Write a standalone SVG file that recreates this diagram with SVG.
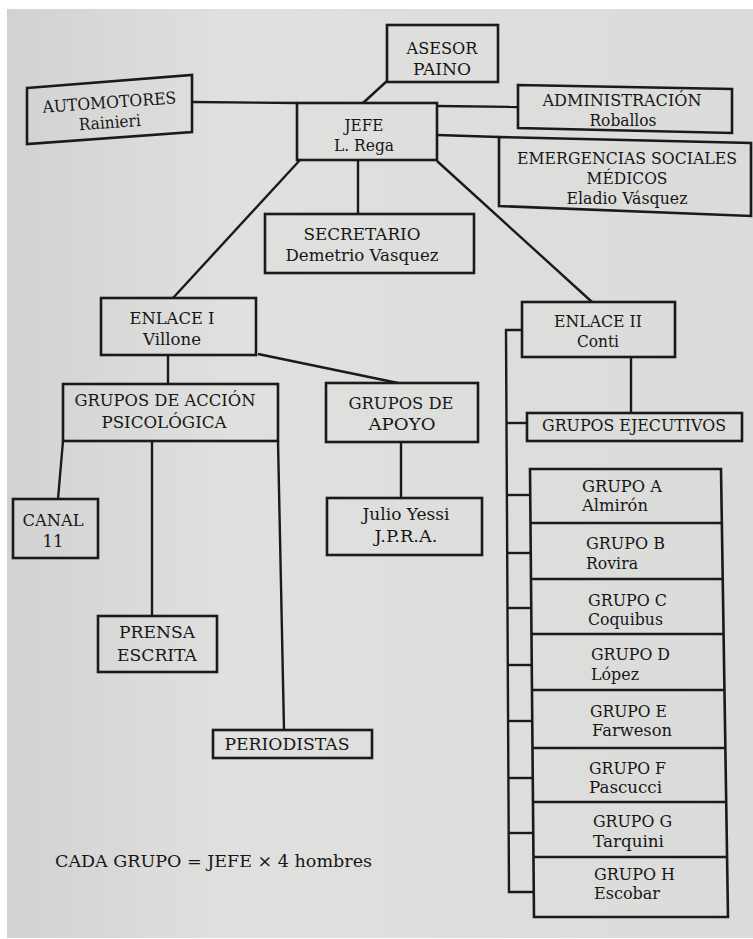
<svg xmlns="http://www.w3.org/2000/svg" width="753" height="939" viewBox="0 0 753 939">
<style>
.box{fill:none;stroke:#1a1a1a;stroke-width:2.6;stroke-linejoin:miter}
.ln{fill:none;stroke:#1a1a1a;stroke-width:2.4}
text{font-family:"DejaVu Serif","Liberation Serif",serif;font-size:16.5px;fill:#161616}
.c{text-anchor:middle}
</style>
<defs>
<linearGradient id="paper" x1="0" y1="0" x2="1" y2="0">
<stop offset="0" stop-color="#d2d2d2"/>
<stop offset="0.3" stop-color="#e0e0df"/>
<stop offset="1" stop-color="#dbdbda"/>
</linearGradient>
</defs>
<rect x="0" y="0" width="753" height="939" fill="#ffffff"/>
<rect x="7" y="9" width="746" height="929" fill="url(#paper)"/>

<g id="connectors">
<path class="ln" d="M192,102 L297,103"/>
<path class="ln" d="M437,106 L518,107"/>
<path class="ln" d="M437,135 L499,137"/>
<path class="ln" d="M387,81 L363,103"/>
<path class="ln" d="M358,160 L358,214"/>
<path class="ln" d="M300,160 L173,298"/>
<path class="ln" d="M437,161 L592,302"/>
<path class="ln" d="M168,355 L168,384"/>
<path class="ln" d="M258,354 L398,383"/>
<path class="ln" d="M63,441 L58,499"/>
<path class="ln" d="M152,441 L152,616"/>
<path class="ln" d="M278,441 L284,730"/>
<path class="ln" d="M401,442 L401,498"/>
<path class="ln" d="M631,357 L631,413"/>
<path class="ln" d="M522,330 L506,330 L509,892 L534,892"/>
<path class="ln" d="M506.5,423 L527,423"/>
<path class="ln" d="M507,495 L530,495"/>
<path class="ln" d="M507.2,553 L531,553"/>
<path class="ln" d="M507.5,608 L531,608"/>
<path class="ln" d="M507.8,665 L532,665"/>
<path class="ln" d="M508.1,721 L532,721"/>
<path class="ln" d="M508.4,778 L533,778"/>
<path class="ln" d="M508.7,833 L533,833"/>
</g>

<g id="asesor">
<rect class="box" x="387" y="25" width="111" height="57"/>
<text class="c" x="442" y="54" textLength="71" lengthAdjust="spacingAndGlyphs">ASESOR</text>
<text class="c" x="442" y="75" textLength="58" lengthAdjust="spacingAndGlyphs">PAINO</text>
</g>

<g id="automotores">
<polygon class="box" points="27,88 192,75 192,132 27,144"/>
<g transform="rotate(-4 110 112)">
<text class="c" x="110" y="108" textLength="134" lengthAdjust="spacingAndGlyphs">AUTOMOTORES</text>
<text class="c" x="109" y="128" textLength="62" lengthAdjust="spacingAndGlyphs">Rainieri</text>
</g>
</g>

<g id="jefe">
<rect class="box" x="297" y="103" width="140" height="57"/>
<text class="c" x="364" y="131" textLength="39" lengthAdjust="spacingAndGlyphs">JEFE</text>
<text class="c" x="364" y="151" textLength="60" lengthAdjust="spacingAndGlyphs">L. Rega</text>
</g>

<g id="administracion">
<polygon class="box" points="518,85 732,89 732,133 518,128"/>
<text class="c" x="622" y="106" textLength="159" lengthAdjust="spacingAndGlyphs">ADMINISTRACIÓN</text>
<text class="c" x="623" y="126" textLength="67" lengthAdjust="spacingAndGlyphs">Roballos</text>
</g>

<g id="emergencias">
<polygon class="box" points="499,137 751,143 751,216 499,206"/>
<text class="c" x="627" y="164" textLength="220" lengthAdjust="spacingAndGlyphs">EMERGENCIAS SOCIALES</text>
<text class="c" x="627" y="184" textLength="81" lengthAdjust="spacingAndGlyphs">MÉDICOS</text>
<text class="c" x="627" y="204" textLength="121" lengthAdjust="spacingAndGlyphs">Eladio Vásquez</text>
</g>

<g id="secretario">
<rect class="box" x="265" y="214" width="209" height="59"/>
<text class="c" x="362" y="240" textLength="117" lengthAdjust="spacingAndGlyphs">SECRETARIO</text>
<text class="c" x="362" y="261" textLength="153" lengthAdjust="spacingAndGlyphs">Demetrio Vasquez</text>
</g>

<g id="enlace1">
<rect class="box" x="101" y="298" width="155" height="57"/>
<text class="c" x="172" y="324" textLength="85" lengthAdjust="spacingAndGlyphs">ENLACE I</text>
<text class="c" x="172" y="345" textLength="58" lengthAdjust="spacingAndGlyphs">Villone</text>
</g>

<g id="enlace2">
<rect class="box" x="522" y="302" width="153" height="55"/>
<text class="c" x="598" y="327" textLength="88" lengthAdjust="spacingAndGlyphs">ENLACE II</text>
<text class="c" x="598" y="347" textLength="42" lengthAdjust="spacingAndGlyphs">Conti</text>
</g>

<g id="accion-psicologica">
<rect class="box" x="63" y="384" width="215" height="57"/>
<text class="c" x="165" y="406" textLength="181" lengthAdjust="spacingAndGlyphs">GRUPOS DE ACCIÓN</text>
<text class="c" x="164" y="428" textLength="125" lengthAdjust="spacingAndGlyphs">PSICOLÓGICA</text>
</g>

<g id="apoyo">
<rect class="box" x="326" y="383" width="152" height="59"/>
<text class="c" x="401" y="409" textLength="105" lengthAdjust="spacingAndGlyphs">GRUPOS DE</text>
<text class="c" x="402" y="430" textLength="67" lengthAdjust="spacingAndGlyphs">APOYO</text>
</g>

<g id="ejecutivos">
<rect class="box" x="527" y="413" width="215" height="28"/>
<text class="c" x="634" y="431" textLength="184" lengthAdjust="spacingAndGlyphs">GRUPOS EJECUTIVOS</text>
</g>

<g id="canal11">
<rect class="box" x="13" y="499" width="85" height="59"/>
<text class="c" x="53" y="526" textLength="61" lengthAdjust="spacingAndGlyphs">CANAL</text>
<text class="c" x="53" y="547">11</text>
</g>

<g id="julio">
<rect class="box" x="327" y="498" width="155" height="57"/>
<text class="c" x="406" y="520" textLength="87" lengthAdjust="spacingAndGlyphs">Julio Yessi</text>
<text class="c" x="406" y="542" textLength="63" lengthAdjust="spacingAndGlyphs">J.P.R.A.</text>
</g>

<g id="prensa">
<rect class="box" x="98" y="616" width="119" height="56"/>
<text class="c" x="157" y="638" textLength="76" lengthAdjust="spacingAndGlyphs">PRENSA</text>
<text class="c" x="157" y="661" textLength="80" lengthAdjust="spacingAndGlyphs">ESCRITA</text>
</g>

<g id="periodistas">
<rect class="box" x="213" y="730" width="159" height="28"/>
<text class="c" x="287" y="750" textLength="125" lengthAdjust="spacingAndGlyphs">PERIODISTAS</text>
</g>

<g id="grupos-column">
<polygon class="box" points="530,469 721,469 728,917 534,917"/>
<path class="ln" d="M530.5,523 L721.8,523 M531,579 L722.7,579 M531.5,634 L723.6,634 M532,690 L724.5,690 M532.5,748 L725.4,748 M533,802 L726.2,802 M533.5,857 L727.1,857"/>
</g>
<g id="grupo-a">
<text x="582" y="492" textLength="80" lengthAdjust="spacingAndGlyphs">GRUPO A</text>
<text x="582" y="511" textLength="66" lengthAdjust="spacingAndGlyphs">Almirón</text>
</g>
<g id="grupo-b">
<text x="586" y="549" textLength="79" lengthAdjust="spacingAndGlyphs">GRUPO B</text>
<text x="586" y="569" textLength="52" lengthAdjust="spacingAndGlyphs">Rovira</text>
</g>
<g id="grupo-c">
<text x="588" y="606" textLength="79" lengthAdjust="spacingAndGlyphs">GRUPO C</text>
<text x="588" y="625" textLength="75" lengthAdjust="spacingAndGlyphs">Coquibus</text>
</g>
<g id="grupo-d">
<text x="591" y="660" textLength="79" lengthAdjust="spacingAndGlyphs">GRUPO D</text>
<text x="591" y="680" textLength="48" lengthAdjust="spacingAndGlyphs">López</text>
</g>
<g id="grupo-e">
<text x="590" y="717" textLength="77" lengthAdjust="spacingAndGlyphs">GRUPO E</text>
<text x="592" y="736" textLength="80" lengthAdjust="spacingAndGlyphs">Farweson</text>
</g>
<g id="grupo-f">
<text x="589" y="774" textLength="77" lengthAdjust="spacingAndGlyphs">GRUPO F</text>
<text x="589" y="793" textLength="73" lengthAdjust="spacingAndGlyphs">Pascucci</text>
</g>
<g id="grupo-g">
<text x="593" y="827" textLength="79" lengthAdjust="spacingAndGlyphs">GRUPO G</text>
<text x="593" y="847" textLength="71" lengthAdjust="spacingAndGlyphs">Tarquini</text>
</g>
<g id="grupo-h">
<text x="594" y="880" textLength="81" lengthAdjust="spacingAndGlyphs">GRUPO H</text>
<text x="594" y="899" textLength="66" lengthAdjust="spacingAndGlyphs">Escobar</text>
</g>

<g id="nota">
<text x="55" y="867" textLength="317" lengthAdjust="spacingAndGlyphs">CADA GRUPO = JEFE × 4 hombres</text>
</g>
</svg>
